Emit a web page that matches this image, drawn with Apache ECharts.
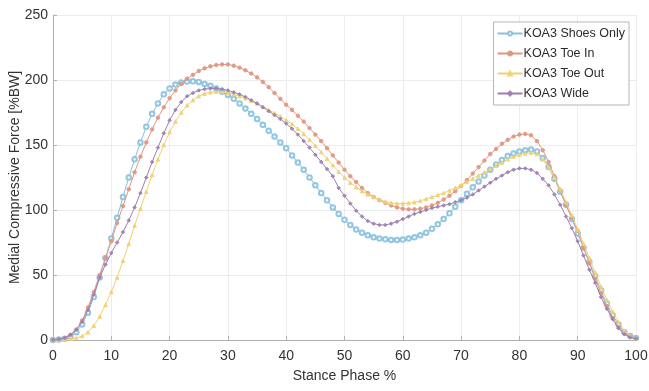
<!DOCTYPE html>
<html>
<head>
<meta charset="utf-8">
<script src="https://cdn.jsdelivr.net/npm/echarts@6/dist/echarts.min.js"></script>
<style>
  html, body { margin: 0; padding: 0; background: #fff; }
  #chart { width: 649px; height: 391px; }
</style>
</head>
<body>
<div id="chart"></div>
<script>
// stance phase, 0..100 %
const phase = Array.from({ length: 101 }, (_, i) => i);

const seriesNames = ['KOA3 Shoes Only', 'KOA3 Toe In', 'KOA3 Toe Out', 'KOA3 Wide'];

const shoesOnly = [
  0, 0.3, 1, 2.5, 6, 12, 21, 33, 48, 63,
  78, 94, 110, 125, 139, 152, 164, 174, 182, 189,
  193.5, 196.5, 198, 198.8, 199, 198.5, 197, 195.5, 193.5, 191,
  188.5, 185.5, 182, 178, 174, 170, 165.5, 161, 156.5, 152,
  147.5, 142, 136.5, 131, 125, 119, 113, 107.5, 102, 97,
  92.5, 88.5, 85, 82.5, 80.5, 79, 78, 77.5, 77, 77,
  77.3, 78, 79, 80.5, 82.5, 85.5, 89, 93, 97.5, 102.5,
  107.5, 112.5, 117.5, 122, 126.5, 131, 135, 138.5, 141.5, 143.5,
  145, 146, 146.5, 145, 140, 133, 124, 114, 104, 93,
  82, 71, 60, 49, 38, 28, 19, 12, 6, 3,
  1.5
];

const toeIn = [
  0, 0.5, 1.5, 4, 8, 15, 25, 37, 50, 63,
  76, 90, 103, 116, 129, 141, 152, 162, 171, 179,
  186, 192, 197, 201, 204, 207, 209, 210.5, 211.5, 212,
  212, 211, 209.5, 207.5, 205, 202, 198.5, 194.5, 190, 185.5,
  181, 177, 172.5, 168, 163, 158, 153, 147.5, 142, 136.5,
  131, 126, 121.5, 117, 113, 110, 107.5, 105.5, 103.5, 102,
  101, 100.5, 100.5, 101, 102, 103.5, 105.5, 108, 111, 114.5,
  118.5, 123, 128, 133, 138, 143, 147, 151, 154, 156.5,
  158, 158.5, 157.5, 153, 146, 137, 126, 115, 104, 94,
  84, 71, 59, 47, 36, 26, 17, 10, 5, 2.5,
  1
];

const toeOut = [
  0, 0, 0.3, 0.8, 1.5, 3, 6, 11, 18, 27,
  37, 48, 61, 74, 88, 101, 114, 127, 139, 150,
  160, 168, 175, 180.5, 184.5, 187.5, 189.5, 190.5, 191, 190.8,
  190, 189, 187.5, 186, 184, 182, 179.5, 177, 174.5, 172,
  169, 166, 162.5, 158.5, 154, 149.5, 144.5, 139.5, 134.5, 129.5,
  125, 121, 117.5, 114.5, 112, 110, 108, 106.5, 105.5, 105,
  105, 105.3, 106, 107, 108.5, 110, 111.5, 113, 115, 117,
  119, 121.5, 124, 126.5, 129, 131.5, 134, 136.5, 139, 141,
  142.5, 143.5, 144, 143, 139, 133, 125, 116, 106, 96,
  85, 74, 63, 52, 41, 31, 22, 14, 7, 3,
  1
];

const wide = [
  0, 0.5, 1.5, 4, 8, 14, 23, 35, 48, 58,
  67, 75, 83, 92, 102, 113, 125, 137, 148, 159,
  169, 177, 183, 187.5, 190, 192, 193, 193.5, 193.5, 193,
  192, 190.5, 189, 187, 184.5, 182, 179, 176, 173, 170,
  166.5, 162.5, 158, 153, 148, 142.5, 137, 131.5, 126, 117,
  111, 105, 99.5, 95, 91.5, 89.5, 88.5, 88.5, 89.5, 91,
  93, 95, 97, 98.5, 100, 101.5, 102.5, 103.5, 104.5, 106,
  107.5, 109.5, 112, 115, 118, 121, 124, 126.5, 129, 131,
  132, 132, 131, 128.5, 124, 119, 112, 104, 95, 86,
  76, 65, 54, 44, 33, 24, 16, 9, 4.5, 2,
  1
];

const yTicks = [0, 50, 100, 150, 200, 250];

const colors = ['#86c0de', '#de977f', '#efd073', '#9d7fb0'];
const symbols = ['emptyCircle', 'circle', 'triangle', 'diamond'];
const values = [shoesOnly, toeIn, toeOut, wide];

const chart = echarts.init(document.getElementById('chart'));

const fontFamily = 'Liberation Sans, Arial, sans-serif';

const option = {
  backgroundColor: '#ffffff',
  animation: false,
  textStyle: { fontFamily },
  grid: {
    left: 53,
    right: 13,
    top: 15,
    bottom: 51,
    containLabel: false,
    outerBoundsMode: 'none',
  },
  legend: {
    orient: 'vertical',
    right: 20,
    top: 22,
    data: seriesNames,
    backgroundColor: '#ffffff',
    borderColor: '#b5b5b5',
    borderWidth: 1,
    borderRadius: 0,
    padding: [4, 4, 4, 3],
    itemGap: 5,
    itemWidth: 25,
    itemHeight: 5,
    textStyle: {
      color: '#2b2b2b',
      fontSize: 12.5,
      lineHeight: 15,
      fontFamily,
      padding: [0, 0, 0, -4],
    },
  },
  xAxis: {
    type: 'value',
    min: 0,
    max: 100,
    interval: 10,
    name: 'Stance Phase %',
    nameLocation: 'middle',
    nameGap: 29,
    nameMoveOverlap: false,
    nameTextStyle: { color: '#333', fontSize: 14, fontFamily },
    axisLine: { show: true, lineStyle: { color: '#b0b0b0', width: 1 } },
    axisTick: { show: true, inside: true, length: 4, lineStyle: { color: '#b0b0b0' } },
    axisLabel: { color: '#333', fontSize: 14, margin: 9, fontFamily },
    splitLine: { show: true, lineStyle: { color: '#ececec', width: 1 } },
  },
  yAxis: {
    type: 'value',
    min: yTicks[0],
    max: yTicks[yTicks.length - 1],
    interval: 50,
    name: 'Medial Compressive Force [%BW]',
    nameLocation: 'middle',
    nameGap: 31,
    nameRotate: 90,
    nameMoveOverlap: false,
    nameTextStyle: { color: '#333', fontSize: 14, fontFamily },
    axisLine: { show: true, lineStyle: { color: '#b0b0b0', width: 1 } },
    axisTick: { show: true, inside: true, length: 4, lineStyle: { color: '#b0b0b0' } },
    axisLabel: { color: '#333', fontSize: 14, margin: 5, fontFamily },
    splitLine: { show: true, lineStyle: { color: '#ececec', width: 1 } },
  },
  series: seriesNames.map((name, k) => ({
    name,
    type: 'line',
    data: phase.map((x, i) => [x, values[k][i]]),
    showSymbol: true,
    symbol: symbols[k],
    symbolSize: k === 0 ? 4.5 : 3.5,
    showAllSymbol: true,
    smooth: false,
    lineStyle: { color: colors[k], width: 1 },
    itemStyle: { color: colors[k], borderColor: colors[k], borderWidth: 1, opacity: 0.9 },
    emphasis: { disabled: true },
    z: k === 0 ? 2 : 3 + k,
  })),
};

chart.setOption(option);
</script>
</body>
</html>
